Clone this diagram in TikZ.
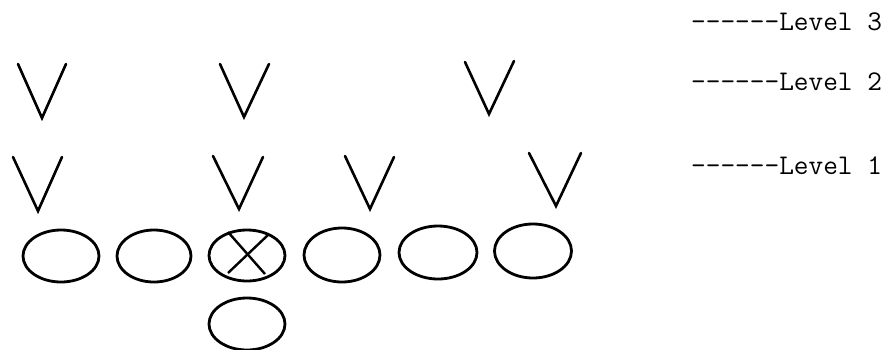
\documentclass[tikz,border=0pt]{standalone}
\begin{document}
\begin{tikzpicture}[x=1bp,y=-1bp,
  vee/.style={line width=2.6bp,line join=miter,line cap=round},
  oval/.style={line width=2.8bp},
  lbl/.style={anchor=base west,inner sep=0pt,font=\ttfamily\fontsize{28.5bp}{32bp}\selectfont}]
\useasboundingbox[fill=white] (0,0) rectangle (891,349);
% level 2 row
\draw[vee] (18,64) -- (42,118) -- (66,64);
\draw[vee] (220,64) -- (244,117) -- (269,64);
\draw[vee] (465,62) -- (489,114) -- (514,61);
% level 1 row
\draw[vee] (13,157) -- (38,211) -- (62,157);
\draw[vee] (213,156) -- (239,209) -- (263,157);
\draw[vee] (345,156) -- (370,209) -- (394,157);
\draw[vee] (529,153) -- (556,206) -- (581,153);
% ovals
\draw[oval] (61,256) ellipse (38 and 26);
\draw[oval] (154,256) ellipse (37 and 26);
\draw[oval] (247,255.5) ellipse (38 and 25.5);
\draw[oval] (342,255) ellipse (38 and 27);
\draw[oval] (438,252.5) ellipse (39 and 26.5);
\draw[oval] (533,251) ellipse (38.5 and 27);
\draw[oval] (247,324) ellipse (38 and 26);
% cross
\draw[line width=2.4bp] (228,232) -- (265,274);
\draw[line width=2.4bp] (268,235) -- (228,273);
% labels
\node[lbl] (l3) at (691,30) {------Level 3};
\node[lbl] (l2) at (691,90) {------Level 2};
\node[lbl] (l1) at (691,174) {------Level 1};
\end{tikzpicture}
\end{document}
